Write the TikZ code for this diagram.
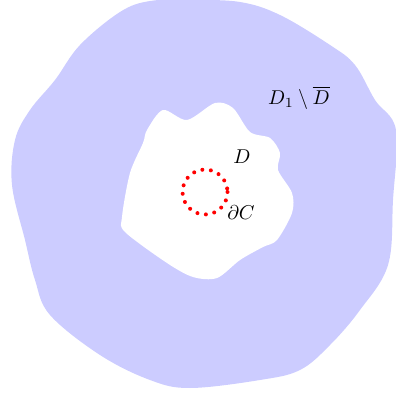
\documentclass[tikz,border=0pt]{standalone}
\usepackage{tikz}
\usetikzlibrary{positioning}

\begin{document}
\begin{tikzpicture}[x=0.5pt, y=-0.5pt,
          ring/.style={fill=blue!20, draw=none},
          hole/.style={fill=white, draw=none},
          bdry/.style={red, line width=2pt, line cap=round,
                       dash pattern=on 0pt off 4.3pt},
          lbl/.style={inner sep=1pt}
        ]
        \useasboundingbox (0,0) rectangle (396,395);

        % Outer region D_1
        \fill[ring] plot[smooth cycle, tension=0.6] coordinates {
          (190,0) (240,2) (280,15) (330,45) (355,65) (375,100) (396,130)
          (393,200) (388,265) (360,310) (330,345) (300,370) (260,380)
          (190,388) (150,380) (100,355) (50,315) (35,280) (25,240)
          (12,185) (15,140) (30,110) (55,80) (80,45) (120,12) (150,1)};

        % Inner hole D
        \fill[hole] plot[smooth cycle, tension=0.5] coordinates {
          (163,110) (187,120) (215,103) (233,108) (250,132) (270,138)
          (280,153) (278,170) (292,193) (292,213) (277,240) (263,247)
          (240,260) (217,278) (193,277) (167,263) (125,232) (122,217)
          (130,173) (143,143) (147,130)};

        % Small circle C
        \draw[bdry] (205,192) circle (22.5);

        % Labels
        \node[lbl] (ringlbl) at (299,98) {$D_1\setminus\overline{D}$};
        \node[lbl] (holelbl) at (242,157) {$D$};
        \node[lbl] (circlbl) at (241,213) {$\partial C$};
      \end{tikzpicture}
\end{document}
